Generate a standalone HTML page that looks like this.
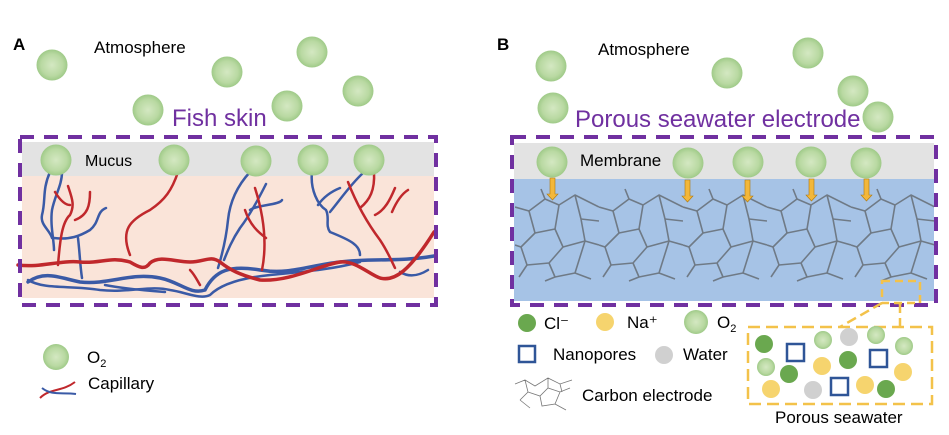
<!DOCTYPE html>
<html><head><meta charset="utf-8"><style>
html,body{margin:0;padding:0;background:#fff}
svg{display:block}
text{font-family:"Liberation Sans",Arial,sans-serif}
</style></head><body>
<svg width="949" height="435" viewBox="0 0 949 435" xmlns="http://www.w3.org/2000/svg">
<defs>
<radialGradient id="bub" cx="50%" cy="50%" r="50%">
<stop offset="0" stop-color="#d4e8c2"/><stop offset="0.7" stop-color="#b9d9a2"/><stop offset="1" stop-color="#9fca88"/>
</radialGradient>
<pattern id="crack" x="515" y="185" width="84" height="100" patternUnits="userSpaceOnUse">
<g stroke="#6f7a86" stroke-width="1.6" fill="none" stroke-linejoin="round">
<path d="M0 22 L14 26 L30 14 L44 20 L60 10 L84 22"/>
<path d="M14 26 L20 48 L6 62 L0 60"/>
<path d="M20 48 L40 44 L48 62 L70 56 L84 60"/>
<path d="M30 14 L26 4"/>
<path d="M44 20 L40 44"/>
<path d="M60 10 L66 34 L70 56"/>
<path d="M66 34 L84 36"/>
<path d="M6 62 L12 80 L4 92"/>
<path d="M12 80 L34 78 L48 62"/>
<path d="M34 78 L40 92 L30 96"/>
<path d="M40 92 L60 88 L70 56"/>
<path d="M60 88 L76 94"/>
</g>
</pattern>
</defs>

<!-- Panel A -->
<text x="13" y="50" font-size="17" font-weight="bold">A</text>
<text x="94" y="53" font-size="17">Atmosphere</text>
<g fill="url(#bub)">
<circle cx="52" cy="65" r="15.5"/><circle cx="227" cy="72" r="15.5"/><circle cx="312" cy="52" r="15.5"/>
<circle cx="358" cy="91" r="15.5"/><circle cx="148" cy="110" r="15.5"/><circle cx="287" cy="106" r="15.5"/>
</g>
<text x="172" y="126" font-size="24" fill="#7030a0">Fish skin</text>
<rect x="22" y="142" width="412" height="34" fill="#e3e3e3"/>
<rect x="22" y="176" width="412" height="122" fill="#fae4d9"/>
<g fill="none" stroke-linecap="round">
<g stroke="#3a5aa6" stroke-width="2.5">
<path d="M50 172 C42 190 46 200 42 215 C40 225 50 230 52 238"/>
<path d="M62 172 C62 185 55 195 52 210 C50 225 54 240 54 250"/>
<path d="M54 238 C70 240 80 236 90 230 C100 222 96 212 106 208"/>
<path d="M78 238 C80 255 80 265 82 278"/>
<path d="M250 172 C238 185 230 200 228 220 C226 240 222 255 218 268"/>
<path d="M266 184 C258 200 250 215 240 228 C232 240 228 250 224 260"/>
<path d="M250 210 C256 205 280 205 282 200"/>
<path d="M312 172 C310 190 318 205 326 210 C330 218 325 225 330 232 C350 240 360 245 360 255"/>
<path d="M363 173 C350 185 340 200 330 212"/>
<path d="M318 205 C325 195 335 190 340 188"/>
<path d="M28 282 C45 270 60 278 80 282 C110 285 130 272 160 278 C180 282 190 295 205 290 C215 270 230 265 260 270 C290 275 310 265 340 262 C370 258 400 262 434 256" stroke-width="3.5"/>
<path d="M28 280 C45 290 70 285 100 290 C130 293 150 285 170 290 C185 292 200 300 210 295 C220 285 240 278 270 275 C300 272 330 270 360 262"/>
<path d="M105 285 C120 288 140 290 165 292"/>
<path d="M400 272 C410 278 420 275 428 270"/>
</g>
<g stroke="#c0282c" stroke-width="2.5">
<path d="M18 265 C40 268 60 260 80 262 C100 264 110 256 130 262 C140 268 145 270 150 263 C160 255 175 262 190 262 C205 262 210 255 220 262 C230 270 240 275 260 280 C290 282 320 265 340 262 C355 260 370 275 380 278 C395 282 410 270 434 232" stroke-width="3.5"/>
<path d="M178 172 C172 190 165 200 150 210 C130 220 120 230 130 255"/>
<path d="M68 186 C72 198 75 205 70 215 C62 222 60 240 58 265"/>
<path d="M90 192 C90 205 88 215 75 220"/>
<path d="M55 192 C60 200 65 205 70 205"/>
<path d="M255 188 C262 210 268 240 262 270"/>
<path d="M245 210 C250 225 258 232 266 238"/>
<path d="M374 172 C375 190 370 200 360 208"/>
<path d="M348 182 C355 200 365 220 380 240 C388 252 392 262 395 268"/>
<path d="M395 188 C390 200 385 210 375 215"/>
<path d="M408 190 C400 195 395 205 392 212"/>
<path d="M190 270 C195 275 198 282 200 285"/>
</g>
</g>
<g fill="url(#bub)">
<circle cx="56" cy="160" r="15.5"/><circle cx="174" cy="160" r="15.5"/><circle cx="256" cy="161" r="15.5"/>
<circle cx="313" cy="160" r="15.5"/><circle cx="369" cy="160" r="15.5"/>
</g>
<text x="85" y="166" font-size="16">Mucus</text>
<rect x="20" y="137" width="416" height="168" fill="none" stroke="#7030a0" stroke-width="4" stroke-dasharray="14 10"/>
<circle cx="56" cy="357" r="13" fill="url(#bub)"/>
<text x="87" y="363" font-size="17">O<tspan font-size="11" dy="4">2</tspan></text>
<path d="M40 398 C50 388 62 392 75 382" stroke="#c0282c" stroke-width="2" fill="none"/>
<path d="M42 388 C52 396 62 392 76 394" stroke="#3a5aa6" stroke-width="2" fill="none"/>
<text x="88" y="389" font-size="17">Capillary</text>

<!-- Panel B -->
<text x="497" y="50" font-size="17" font-weight="bold">B</text>
<text x="598" y="55" font-size="17">Atmosphere</text>
<g fill="url(#bub)">
<circle cx="551" cy="66" r="15.5"/><circle cx="727" cy="73" r="15.5"/><circle cx="808" cy="53" r="15.5"/>
<circle cx="853" cy="91" r="15.5"/><circle cx="553" cy="108" r="15.5"/><circle cx="878" cy="117" r="15.5"/>
</g>
<text x="575" y="127" font-size="24" fill="#7030a0">Porous seawater electrode</text>
<rect x="514" y="143" width="420" height="36" fill="#e3e3e3"/>
<rect x="514" y="179" width="420" height="122" fill="#a6c3e6"/>
<rect x="515" y="188" width="419" height="96" fill="url(#crack)"/>
<g fill="url(#bub)">
<circle cx="552" cy="162" r="15.5"/><circle cx="688" cy="163" r="15.5"/><circle cx="748" cy="162" r="15.5"/>
<circle cx="811" cy="162" r="15.5"/><circle cx="866" cy="163" r="15.5"/>
</g>
<text x="580" y="166" font-size="17">Membrane</text>
<g fill="#f3b73a" stroke="#b07a10" stroke-width="0.6">
<path d="M550 178 h5 v16 h3 l-5.5 6 l-5.5 -6 h3z"/>
<path d="M685 180 h5 v16 h3 l-5.5 6 l-5.5 -6 h3z"/>
<path d="M745 180 h5 v16 h3 l-5.5 6 l-5.5 -6 h3z"/>
<path d="M809 179 h5 v16 h3 l-5.5 6 l-5.5 -6 h3z"/>
<path d="M864 179 h5 v16 h3 l-5.5 6 l-5.5 -6 h3z"/>
</g>
<rect x="512" y="137" width="424" height="168" fill="none" stroke="#7030a0" stroke-width="4" stroke-dasharray="14 10"/>
<rect x="882" y="281" width="38" height="22" fill="none" stroke="#f3c24a" stroke-width="2.5" stroke-dasharray="8 5"/>
<path d="M900 303 V327 M882 303 L840 327" stroke="#f3c24a" stroke-width="2.5" fill="none" stroke-dasharray="10 5"/>
<rect x="748" y="327" width="184" height="77" fill="none" stroke="#f3c24a" stroke-width="2.5" stroke-dasharray="12 6"/>

<circle cx="527" cy="323" r="9" fill="#6aa84f"/>
<text x="544" y="329" font-size="17">Cl⁻</text>
<circle cx="605" cy="322" r="9" fill="#f6d46e"/>
<text x="627" y="328" font-size="17">Na⁺</text>
<circle cx="696" cy="322" r="12" fill="url(#bub)"/>
<text x="717" y="328" font-size="17">O<tspan font-size="11" dy="4">2</tspan></text>
<rect x="519" y="346" width="16" height="16" fill="#fff" stroke="#2f5597" stroke-width="2.5"/>
<text x="553" y="360" font-size="17">Nanopores</text>
<circle cx="664" cy="355" r="9" fill="#d0d0d0"/>
<text x="683" y="360" font-size="17">Water</text>
<g stroke="#777" stroke-width="0.8" fill="none">
<path d="M515 384 L525 380 L535 386 L548 378 L560 384 L572 380 M525 380 L528 392 L520 400 M528 392 L540 396 L548 388 L560 392 L570 388 M548 378 L548 388 M540 396 L542 406 L555 404 L560 392 M520 400 L530 408 M555 404 L566 410 M560 384 L562 392"/>
</g>
<text x="582" y="401" font-size="17">Carbon electrode</text>

<g>
<circle cx="764" cy="344" r="9" fill="#6aa84f"/>
<circle cx="823" cy="340" r="9" fill="url(#bub)"/>
<circle cx="849" cy="337" r="9" fill="#d0d0d0"/>
<circle cx="876" cy="335" r="9" fill="url(#bub)"/>
<circle cx="904" cy="346" r="9" fill="url(#bub)"/>
<circle cx="766" cy="367" r="9" fill="url(#bub)"/>
<circle cx="789" cy="374" r="9" fill="#6aa84f"/>
<circle cx="822" cy="366" r="9" fill="#f6d46e"/>
<circle cx="848" cy="360" r="9" fill="#6aa84f"/>
<circle cx="903" cy="372" r="9" fill="#f6d46e"/>
<circle cx="771" cy="389" r="9" fill="#f6d46e"/>
<circle cx="813" cy="390" r="9" fill="#d0d0d0"/>
<circle cx="865" cy="385" r="9" fill="#f6d46e"/>
<circle cx="886" cy="389" r="9" fill="#6aa84f"/>
<g fill="none" stroke="#2f5597" stroke-width="2.5">
<rect x="787" y="344" width="17" height="17"/>
<rect x="870" y="350" width="17" height="17"/>
<rect x="831" y="378" width="17" height="17"/>
</g>
</g>
<text x="775" y="423" font-size="17">Porous seawater</text>
</svg>
</body></html>
